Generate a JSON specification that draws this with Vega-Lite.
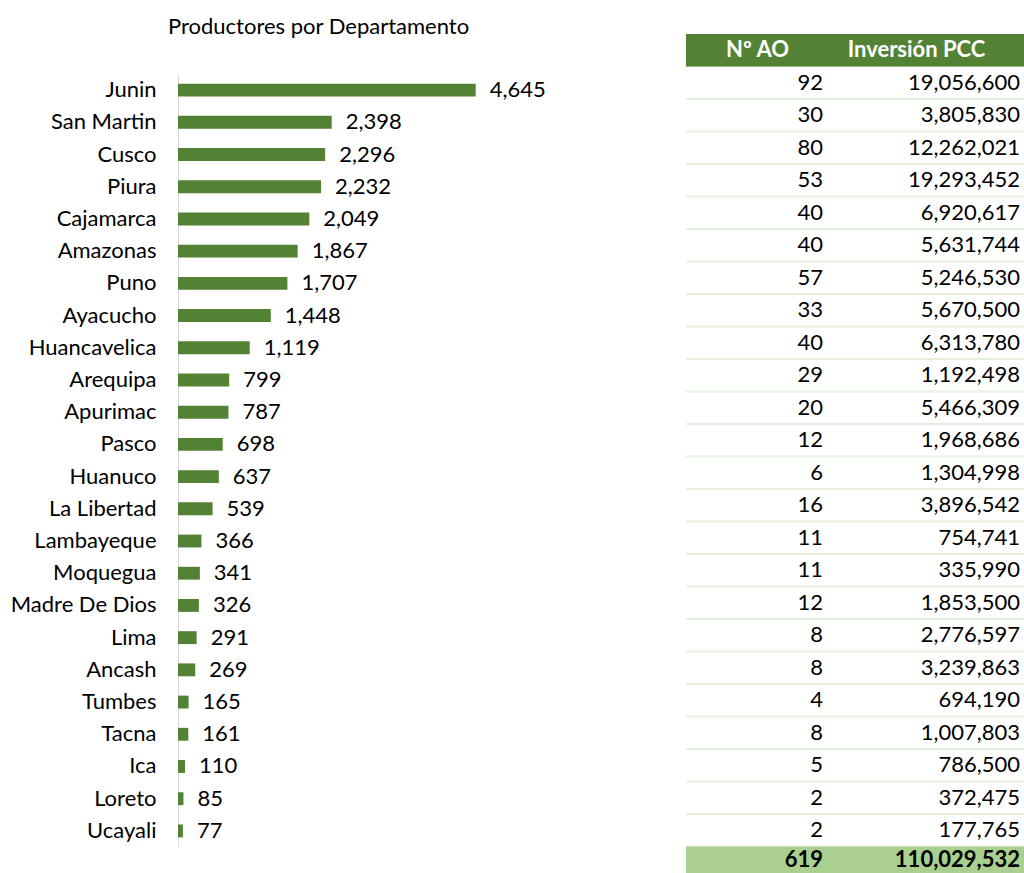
{
  "$schema": "https://vega.github.io/schema/vega-lite/v6.json",
  "autosize": {"type": "none"},
  "padding": {"left": 178, "top": 34, "right": 0, "bottom": 0},
  "width": 846,
  "height": 839,
  "background": "white",
  "config": {"view": {"stroke": null}, "font": "Lato", "text": {"font": "Lato", "fontSize": 22, "color": "#000000"}},
  "title": {"text": "Productores por Departamento", "anchor": "start", "frame": "group", "font": "Lato", "fontSize": 22, "fontWeight": "normal", "color": "#000000", "dx": -10, "offset": 0, "baseline": "middle", "dy": 15},
  "datasets": {
    "d": [
      {"dept": "Junin", "prod": 4645, "ao": 92, "inv": 19056600},
      {"dept": "San Martin", "prod": 2398, "ao": 30, "inv": 3805830},
      {"dept": "Cusco", "prod": 2296, "ao": 80, "inv": 12262021},
      {"dept": "Piura", "prod": 2232, "ao": 53, "inv": 19293452},
      {"dept": "Cajamarca", "prod": 2049, "ao": 40, "inv": 6920617},
      {"dept": "Amazonas", "prod": 1867, "ao": 40, "inv": 5631744},
      {"dept": "Puno", "prod": 1707, "ao": 57, "inv": 5246530},
      {"dept": "Ayacucho", "prod": 1448, "ao": 33, "inv": 5670500},
      {"dept": "Huancavelica", "prod": 1119, "ao": 40, "inv": 6313780},
      {"dept": "Arequipa", "prod": 799, "ao": 29, "inv": 1192498},
      {"dept": "Apurimac", "prod": 787, "ao": 20, "inv": 5466309},
      {"dept": "Pasco", "prod": 698, "ao": 12, "inv": 1968686},
      {"dept": "Huanuco", "prod": 637, "ao": 6, "inv": 1304998},
      {"dept": "La Libertad", "prod": 539, "ao": 16, "inv": 3896542},
      {"dept": "Lambayeque", "prod": 366, "ao": 11, "inv": 754741},
      {"dept": "Moquegua", "prod": 341, "ao": 11, "inv": 335990},
      {"dept": "Madre De Dios", "prod": 326, "ao": 12, "inv": 1853500},
      {"dept": "Lima", "prod": 291, "ao": 8, "inv": 2776597},
      {"dept": "Ancash", "prod": 269, "ao": 8, "inv": 3239863},
      {"dept": "Tumbes", "prod": 165, "ao": 4, "inv": 694190},
      {"dept": "Tacna", "prod": 161, "ao": 8, "inv": 1007803},
      {"dept": "Ica", "prod": 110, "ao": 5, "inv": 786500},
      {"dept": "Loreto", "prod": 85, "ao": 2, "inv": 372475},
      {"dept": "Ucayali", "prod": 77, "ao": 2, "inv": 177765}
    ],
    "hdr": [{"dept": "HDR", "ao": "Nº AO", "inv": "Inversión PCC"}],
    "tot": [{"dept": "TOT", "ao": 619, "inv": 110029532}]
  },
  "layer": [
    {
      "data": {"name": "d"},
      "encoding": {
        "y": {
          "field": "dept", "type": "nominal", "sort": null,
          "scale": {"range": [40, 813], "paddingInner": 0.6, "paddingOuter": 0.3},
          "axis": {"title": null, "ticks": false, "labelPadding": 22, "domainColor": "#D9D9D9", "domainWidth": 1, "labelFont": "Lato", "labelFontSize": 22, "labelColor": "#000000", "labelLimit": 0}
        },
        "x": {"field": "prod", "type": "quantitative", "scale": {"domain": [0, 13200], "nice": false}, "axis": null}
      },
      "layer": [
        {"mark": {"type": "bar", "color": "#548235"}},
        {"mark": {"type": "text", "align": "left", "dx": 14}, "encoding": {"text": {"field": "prod", "format": ","}}}
      ]
    },
    {
      "layer": [
        {
          "data": {"name": "d"},
          "transform": [{"fold": ["ao", "inv"], "as": ["col", "v"]}],
          "mark": {"type": "bar", "color": "#E2EFDA"},
          "encoding": {
            "x": {"field": "col", "type": "nominal", "scale": {"domain": ["ao", "inv"], "range": [508, 846], "paddingInner": 0, "paddingOuter": 0}, "axis": null},
            "y": {"field": "dept", "type": "nominal", "scale": {"domain": ["HDR", "Junin", "San Martin", "Cusco", "Piura", "Cajamarca", "Amazonas", "Puno", "Ayacucho", "Huancavelica", "Arequipa", "Apurimac", "Pasco", "Huanuco", "La Libertad", "Lambayeque", "Moquegua", "Madre De Dios", "Lima", "Ancash", "Tumbes", "Tacna", "Ica", "Loreto", "Ucayali", "TOT"], "range": [0, 845], "paddingInner": 0, "paddingOuter": 0}, "axis": null}
          }
        },
        {
          "data": {"name": "d"},
          "transform": [{"fold": ["ao", "inv"], "as": ["col", "v"]}],
          "mark": {"type": "bar", "color": "#FFFFFF", "height": {"band": 0.94}},
          "encoding": {
            "x": {"field": "col", "type": "nominal"},
            "y": {"field": "dept", "type": "nominal"}
          }
        },
        {
          "data": {"name": "hdr"},
          "transform": [{"fold": ["ao", "inv"], "as": ["col", "v"]}],
          "mark": {"type": "bar", "color": "#548235"},
          "encoding": {
            "x": {"field": "col", "type": "nominal"},
            "y": {"field": "dept", "type": "nominal"}
          }
        },
        {
          "data": {"name": "tot"},
          "transform": [{"fold": ["ao", "inv"], "as": ["col", "v"]}],
          "mark": {"type": "bar", "color": "#A9D08E"},
          "encoding": {
            "x": {"field": "col", "type": "nominal"},
            "y": {"field": "dept", "type": "nominal"}
          }
        },
        {
          "data": {"name": "hdr"},
          "mark": {"type": "text", "align": "center", "dx": -13, "fontWeight": "bold", "color": "#FFFFFF"},
          "encoding": {
            "x": {"datum": "ao", "type": "nominal"},
            "y": {"field": "dept", "type": "nominal"},
            "text": {"field": "ao"}
          }
        },
        {
          "data": {"name": "hdr"},
          "mark": {"type": "text", "align": "center", "dx": -23, "fontWeight": "bold", "color": "#FFFFFF"},
          "encoding": {
            "x": {"datum": "inv", "type": "nominal"},
            "y": {"field": "dept", "type": "nominal"},
            "text": {"field": "inv"}
          }
        },
        {
          "data": {"name": "d"},
          "mark": {"type": "text", "align": "right", "dx": -32},
          "encoding": {
            "x": {"datum": "ao", "type": "nominal", "bandPosition": 1},
            "y": {"field": "dept", "type": "nominal"},
            "text": {"field": "ao", "format": ","}
          }
        },
        {
          "data": {"name": "d"},
          "mark": {"type": "text", "align": "right", "dx": -4},
          "encoding": {
            "x": {"datum": "inv", "type": "nominal", "bandPosition": 1},
            "y": {"field": "dept", "type": "nominal"},
            "text": {"field": "inv", "format": ","}
          }
        },
        {
          "data": {"name": "tot"},
          "mark": {"type": "text", "align": "right", "dx": -32, "dy": -3, "fontWeight": "bold"},
          "encoding": {
            "x": {"datum": "ao", "type": "nominal", "bandPosition": 1},
            "y": {"field": "dept", "type": "nominal"},
            "text": {"field": "ao", "format": ","}
          }
        },
        {
          "data": {"name": "tot"},
          "mark": {"type": "text", "align": "right", "dx": -4, "dy": -3, "fontWeight": "bold"},
          "encoding": {
            "x": {"datum": "inv", "type": "nominal", "bandPosition": 1},
            "y": {"field": "dept", "type": "nominal"},
            "text": {"field": "inv", "format": ","}
          }
        }
      ]
    }
  ],
  "resolve": {"scale": {"x": "independent", "y": "independent"}}
}
